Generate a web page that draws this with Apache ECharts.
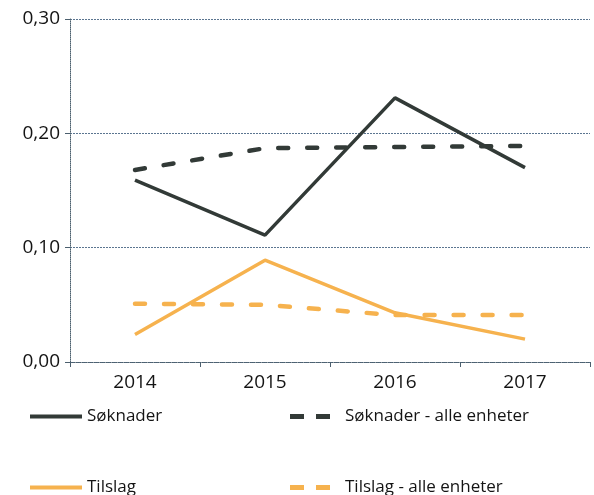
<!DOCTYPE html>
<html>
<head>
<meta charset="utf-8">
<script src="https://cdn.jsdelivr.net/npm/echarts@6/dist/echarts.min.js"></script>
<style>
html, body { margin: 0; padding: 0; background: #fff; }
#chart { width: 594px; height: 495px; }
</style>
</head>
<body>
<div id="chart"></div>
<script>
// data
const years = ['2014', '2015', '2016', '2017'];
const soknader = [0.159, 0.111, 0.231, 0.170];
const soknaderAlle = [0.168, 0.187, 0.188, 0.189];
const tilslag = [0.024, 0.089, 0.043, 0.020];
const tilslagAlle = [0.051, 0.050, 0.041, 0.041];

const dark = '#323a37';
const orange = '#f6b24e';
const font = 'Open Sans';

// legend icons: one bar for solid lines, two short bars for dashed ones
const solidIcon = 'rect';
const dashIcon = 'path://M0,0h14v5h-14z M26,0h14v5h-14z';

let myChart = echarts.init(document.getElementById('chart'), null, {renderer: 'canvas'});

function legendAt(name, left, top, icon, w, h) {
	return {
		data: [{name: name, icon: icon}],
		left: left,
		top: top,
		itemWidth: w,
		itemHeight: h,
		textStyle: {fontFamily: font, fontSize: 17, color: '#141414', padding: [0, 0, 0, icon === 'rect' ? 0 : 10]}
	};
}

let option = {
	animation: false,
	grid: {left: 70, right: 4, top: 19, bottom: 133, containLabel: false},
	legend: [
		legendAt('Søknader', 25, 403, solidIcon, 52, 4),
		legendAt('Søknader - alle enheter', 285, 403, dashIcon, 40, 5),
		legendAt('Tilslag', 25, 474, solidIcon, 52, 4),
		legendAt('Tilslag - alle enheter', 285, 474, dashIcon, 40, 5)
	],
	xAxis: {
		type: 'category',
		data: years,
		boundaryGap: true,
		axisLine: {lineStyle: {color: '#4b5f6e', width: 1, type: 'dotted'}},
		axisTick: {show: true, length: 5, lineStyle: {color: '#4b5f6e'}},
		axisLabel: {fontFamily: font, fontSize: 19, color: '#141414', margin: 11}
	},
	yAxis: {
		type: 'value',
		min: 0,
		max: 0.3,
		interval: 0.1,
		axisLine: {show: true, lineStyle: {color: '#4b5f6e', width: 1, type: 'dotted'}},
		axisTick: {show: true, length: 5, lineStyle: {color: '#4b5f6e'}},
		splitLine: {lineStyle: {color: '#5b7590', width: 1, type: [2, 1]}},
		axisLabel: {
			fontFamily: font, fontSize: 19, color: '#141414', margin: 10,
			formatter: v => v.toFixed(2).replace('.', ',')
		}
	},
	series: [
		{
			name: 'Søknader', type: 'line', data: soknader, symbol: 'none',
			itemStyle: {color: dark},
			lineStyle: {color: dark, width: 3.5}
		},
		{
			name: 'Søknader - alle enheter', type: 'line', data: soknaderAlle, symbol: 'none',
			itemStyle: {color: dark},
			lineStyle: {color: dark, width: 4.5, type: [10, 19], cap: 'round'}
		},
		{
			name: 'Tilslag', type: 'line', data: tilslag, symbol: 'none',
			itemStyle: {color: orange},
			lineStyle: {color: orange, width: 3.5}
		},
		{
			name: 'Tilslag - alle enheter', type: 'line', data: tilslagAlle, symbol: 'none',
			itemStyle: {color: orange},
			lineStyle: {color: orange, width: 4.5, type: [10, 19], cap: 'round'}
		}
	]
};

myChart.setOption(option, true);
</script>
</body>
</html>
